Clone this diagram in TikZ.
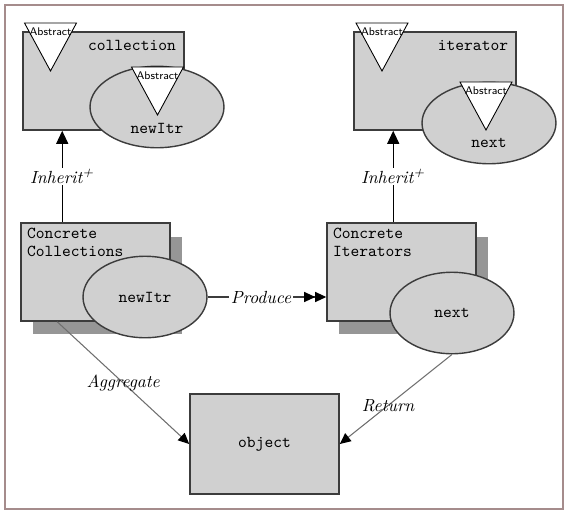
\documentclass[tikz,border=0pt]{standalone}
\usetikzlibrary{arrows.meta,shapes.geometric,shadows}
\definecolor{boxgray}{RGB}{208,208,208}
\definecolor{shadegray}{RGB}{150,150,150}
\definecolor{edgegray}{RGB}{60,60,60}
\definecolor{linegray}{RGB}{110,110,110}
\definecolor{framecol}{RGB}{165,140,140}
\tikzset{
  cls/.style={rectangle, draw=edgegray, line width=0.9pt, fill=boxgray, minimum width=#1, minimum height=1.96cm, inner sep=0pt},
  conc/.style={cls=2.98cm, drop shadow={shadow xshift=0.24cm, shadow yshift=-0.27cm, fill=shadegray, opacity=1}},
  meth/.style={ellipse, draw=edgegray, line width=0.8pt, fill=boxgray, minimum width=#1, minimum height=1.63cm, inner sep=0pt, font=\ttfamily\fontsize{9.5}{10.5}\selectfont},
  clsname/.style={font=\ttfamily\fontsize{9.5}{10.5}\selectfont, inner sep=1pt},
  abs/.style={font=\sffamily\fontsize{6.3}{7}\selectfont, inner sep=0pt},
  lbl/.style={font=\itshape, text=black, inner sep=1pt},
  inherit/.style={black, line width=0.6pt, -{Triangle[length=0.26cm, width=0.24cm]}},
  produce/.style={edgegray, line width=0.6pt, -{Triangle[length=0.22cm, width=0.2cm, color=black] Triangle[length=0.22cm, width=0.2cm, color=black]}},
  assoc/.style={linegray, line width=0.6pt, -{Triangle[length=0.22cm, width=0.2cm, color=black]}}
}
% abstract marker: name, top centre
\def\abstri#1(#2,#3){\draw[black, line width=0.5pt, fill=white] (#2-26,#3) -- (#2+26,#3) -- (#2,#3+48) -- cycle;
  \node[abs] (#1) at (#2,#3+9) {Abstract};}

\begin{document}
\begin{tikzpicture}[x=0.02cm, y=-0.02cm]
  %%%%% START %%%%%
  \useasboundingbox (0,0) rectangle (566,512);
  \draw[framecol, line width=0.6pt] (5,5) rectangle (563,509);

  % collection
  \node[cls=3.22cm] (col) at (103.5,81) {};
  \node[clsname] (coltxt) at (132,45) {collection};
  \abstri{colabs}(50.5,23)
  \node[meth=2.68cm] (colitr) at (157,107) {};
  \abstri{colitrabs}(157.5,67)
  \node[clsname] (colitrtxt) at (157,128) {newItr};

  % iterator
  \node[cls=3.24cm] (it) at (435,81) {};
  \node[clsname] (ittxt) at (473,45) {iterator};
  \abstri{itabs}(382,23)
  \node[meth=2.68cm] (itnext) at (489,123) {};
  \abstri{itnextabs}(486,82)
  \node[clsname] (itnexttxt) at (489,143) {next};

  % concrete classes
  \node[conc] (cc) at (95.5,272) {};
  \node[clsname, anchor=north west, align=left] (cctxt) at (25,226) {Concrete\\Collections};
  \node[meth=2.48cm] (ccitr) at (145,297) {newItr};

  \node[conc] (ci) at (401.5,272) {};
  \node[clsname, anchor=north west, align=left] (citxt) at (331,226) {Concrete\\Iterators};
  \node[meth=2.48cm] (cinext) at (452,313) {next};

  \node[cls=2.98cm, minimum height=2cm, font=\ttfamily\fontsize{9.5}{10.5}\selectfont] (obj) at (264.5,444) {object};

  % relations
  \draw[inherit] (cc.north west) ++(42,0) coordinate (ccup) -- node[lbl, fill=white] {Inherit\textsuperscript{+}} (ccup |- col.south);
  \draw[inherit] (ci.north west) ++(67,0) coordinate (ciup) -- node[lbl, fill=white] {Inherit\textsuperscript{+}} (ciup |- it.south);
  \draw[produce] (ccitr.east) -- node[lbl, fill=white, pos=0.45] {Produce} (ccitr.east -| ci.west);
  \draw[assoc] (cc.south west) ++(37,0) coordinate (ccdn) -- node[lbl] {Aggregate} (obj.west);
  \draw[assoc] (cinext.south) -- node[lbl, pos=0.57] {Return} (obj.east);
  %%%%% END %%%%%
\end{tikzpicture}
\end{document}
